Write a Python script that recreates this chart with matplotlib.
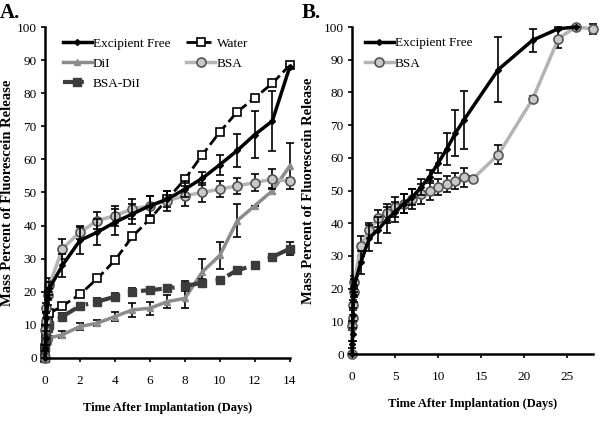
import matplotlib.pyplot as plt
from matplotlib.lines import Line2D

plt.rcParams['font.family'] = ['Liberation Serif', 'DejaVu Serif']

# time points (days)
t_a = [0, 0.02, 0.04, 0.08, 0.17, 0.25, 1, 2, 3, 4, 5, 6, 7, 8, 9, 10, 11, 12, 13, 14]

ef = [0, 3, 6, 12, 18, 21, 28, 35.5, 38, 41, 43.5, 46, 48, 51, 54.3, 58.4, 62.7, 67.5, 71.6, 88]
ef_err = [0, 1, 2, 2, 2, 2, 3.5, 4, 4, 4, 3, 3, 2.5, 2.5, 2, 3, 5, 7, 9, 0]

water = [0, 3, 6, 9, 12, 13.5, 15.7, 19.2, 24, 29.5, 36.7, 42, 48, 54, 61.4, 68.3, 74.4, 78.6, 83, 88.5]
water_err = [0, 0, 0, 0, 0, 0, 0.5, 0.5, 0.5, 0.5, 0.5, 0.5, 0.5, 0.5, 0.5, 0.5, 0.5, 0.5, 0.5, 0.5]

dil = [0, 2, 3, 4, 5, 6, 7, 9.5, 10.5, 12.5, 14.5, 15, 17, 18, 26, 31, 41.5, 46, 50.5, 58]
dil_err = [0, 0.5, 0.5, 0.5, 0.5, 0.5, 1, 1, 1, 1.5, 2, 2, 2, 3, 4, 4, 5, 0, 1, 7]

bsa = [0, 8.5, 11, 15, 19, 22, 33, 38, 41.5, 43, 45, 46, 47.5, 49, 50, 51, 52, 53, 54, 53.5]
bsa_err = [0, 1, 1, 1.5, 1.5, 2, 3, 2, 2.5, 3, 3, 3, 3, 3, 3, 2.5, 2.5, 2.5, 3, 1]

bsadil = [0, 3, 5, 7, 9, 10, 12.5, 15.7, 17, 18.5, 20, 20.5, 21, 21.7, 22.7, 23.5, 26.5, 28, 30.5, 33]
bsadil_err = [0, 0.5, 0.5, 0.5, 0.5, 0.5, 1, 1, 1, 1, 1, 1, 1, 1.5, 1, 1, 1, 1, 1, 2]

# panel B continues to later days
t_b_ef = t_a[:19] + [17, 21, 24, 26]
ef_b = ef[:19] + [87, 96, 99.5, 100]
ef_b_err = ef_err[:19] + [10, 3.5, 0.5, 0]

t_b_bsa = t_a + [17, 21, 24, 26, 28]
bsa_b = bsa + [61, 78, 96.5, 100, 99.5]
bsa_b_err = bsa_err + [3, 1, 3, 0.5, 1.5]

styles = {
    'Excipient Free': dict(color='black', lw=2.5, marker='D', ms=3, mfc='black', mec='black'),
    'Water': dict(color='black', ls='--', lw=2, marker='s', ms=6, mfc='white', mec='black', mew=1.2),
    'DiI': dict(color='#8c8c8c', lw=2.5, marker='^', ms=5, mfc='#8c8c8c', mec='#8c8c8c'),
    'BSA': dict(color='#b4b4b4', lw=2.5, marker='o', ms=6.5, mfc='#c8c8c8', mec='#555555', mew=1.2),
    'BSA-DiI': dict(color='#3c3c3c', lw=3, ls=(0, (5, 2.5, 0.6, 2.5)), marker='s', ms=5.5,
                    mfc='#3c3c3c', mec='#3c3c3c'),
}

fig = plt.figure(figsize=(6, 4.23), dpi=100)
axA = fig.add_axes([0.075, 0.154, 0.408, 0.782])
axB = fig.add_axes([0.587, 0.163, 0.401, 0.773])

eb = dict(fmt='none', ecolor='black', elinewidth=1.2, capsize=3, capthick=1.2, clip_on=False)


def series(ax, x, y, err, name):
    ax.errorbar(x, y, yerr=err, **eb)
    ax.plot(x, y, clip_on=False, **styles[name])


series(axA, t_a, water, water_err, 'Water')
series(axA, t_a, dil, dil_err, 'DiI')
series(axA, t_a, bsadil, bsadil_err, 'BSA-DiI')
series(axA, t_a, bsa, bsa_err, 'BSA')
series(axA, t_a, ef, ef_err, 'Excipient Free')

series(axB, t_b_bsa, bsa_b, bsa_b_err, 'BSA')
series(axB, t_b_ef, ef_b, ef_b_err, 'Excipient Free')

for ax, xmax, xticks in [(axA, 14, range(0, 15, 2)), (axB, 28, range(0, 30, 5))]:
    ax.set_xlim(0, xmax)
    ax.set_ylim(0, 100)
    ax.set_xticks(list(xticks))
    ax.set_yticks(range(0, 101, 10))
    ax.spines['top'].set_visible(False)
    ax.spines['right'].set_visible(False)
    ax.spines['left'].set_linewidth(1.8)
    ax.spines['bottom'].set_linewidth(1.8)
    ax.tick_params(direction='out', length=3, width=1.2, labelsize=9.5, pad=3)
    ax.tick_params(axis='x', pad=9)
    ax.set_xlabel('Time After Implantation (Days)', fontsize=9, fontweight='bold', labelpad=11)
    ax.set_ylabel('Mass Percent of Fluorescein Release', fontsize=10.5, fontweight='bold')

axA.yaxis.set_label_coords(-0.125, 0.5)
axB.yaxis.set_label_coords(-0.155, 0.5)


def handle(name):
    return Line2D([], [], **styles[name])


order = ['Excipient Free', 'DiI', 'BSA-DiI', 'Water', 'BSA']
axA.legend([handle(o) for o in order], order, ncol=2, loc='upper left',
           bbox_to_anchor=(0.05, 0.985), frameon=False, fontsize=9.5, handlelength=2.2,
           handletextpad=0.1, columnspacing=1.2, labelspacing=0.6, borderaxespad=0)

order = ['Excipient Free', 'BSA']
axB.legend([handle(o) for o in order], order, loc='upper left',
           bbox_to_anchor=(0.03, 0.985), frameon=False, fontsize=9.5, handlelength=2.2,
           handletextpad=0.1, labelspacing=0.6, borderaxespad=0)

fig.text(0.0, 0.945, 'A.', fontsize=15, fontweight='bold', va='bottom')
fig.text(0.503, 0.945, 'B.', fontsize=15, fontweight='bold', va='bottom')

fig.savefig('out.png', dpi=100)
